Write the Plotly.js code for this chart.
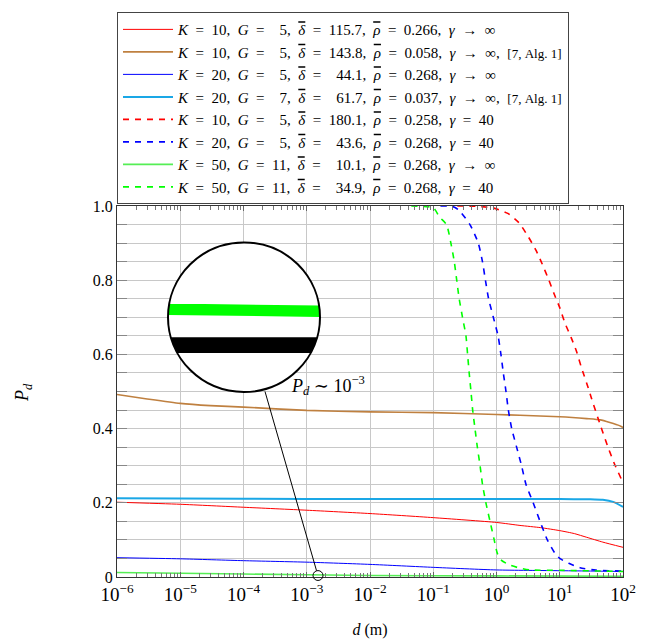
<!DOCTYPE html>
<html>
<head>
<meta charset="utf-8">
<script src="https://cdn.plot.ly/plotly-3.0.1.min.js"></script>
<style>html,body{margin:0;padding:0;background:#fff;}#plot{width:665px;height:642px;}</style>
</head>
<body>
<div id="plot"></div>
<script>
// ---- data ----
const brownX = [1e-6, 3e-6, 1e-5, 3e-5, 1e-4, 1e-3, 1e-2, 1e-1, 1, 2.35, 10, 26.7, 43.7, 62, 88, 100];
const brownY = [0.492, 0.480, 0.468, 0.462, 0.458, 0.449, 0.445, 0.443, 0.438, 0.436, 0.432, 0.427, 0.4236, 0.4165, 0.408, 0.403];

const cyanX = [1e-6, 1e-4, 1e-2, 1, 10, 30, 48, 70, 100];
const cyanY = [0.212, 0.211, 0.210, 0.210, 0.210, 0.2095, 0.208, 0.2025, 0.189];

const redX = [1e-6, 1e-5, 1e-4, 1e-3, 1e-2, 1e-1, 1, 2.35, 5, 10, 17, 26.7, 48, 100];
const redY = [0.2016, 0.196, 0.188, 0.180, 0.171, 0.160, 0.147, 0.139, 0.133, 0.125, 0.117, 0.107, 0.094, 0.080];

const blueX = [1e-6, 1e-5, 1e-4, 1e-3, 1e-2, 1e-1, 1, 10, 100];
const blueY = [0.052, 0.049, 0.044, 0.040, 0.034, 0.026, 0.019, 0.017, 0.015];

const greenX = [1e-6, 1e-4, 1e-2, 1, 100];
const greenY = [0.012, 0.008, 0.004, 0.003, 0.002];

const redDashX = [0.24, 0.5, 0.88, 1.51, 2.26, 3.21, 4.2, 5.3, 6.67, 8.1, 10, 12.1, 15.1, 18.5, 21.7, 28.3, 31, 43.3, 56.5, 72.8, 95.2, 100];
const redDashY = [1.0, 0.999, 0.995, 0.98, 0.955, 0.916, 0.881, 0.843, 0.802, 0.764, 0.726, 0.684, 0.646, 0.607, 0.568, 0.509, 0.487, 0.412, 0.355, 0.306, 0.262, 0.253];

const blueDashX = [0.13, 0.2, 0.25, 0.38, 0.515, 0.6, 0.668, 0.75, 0.891, 1.059, 1.175, 1.282, 1.413, 1.54, 1.74, 2.08, 2.49, 2.92, 3.8, 4.88, 6.36, 8.4, 10, 13.9, 20.9, 37, 100];
const blueDashY = [1.0, 0.999, 0.99, 0.95, 0.9, 0.85, 0.8, 0.75, 0.7, 0.65, 0.6, 0.55, 0.5, 0.45, 0.4, 0.35, 0.3, 0.25, 0.2, 0.15, 0.1, 0.064, 0.05, 0.037, 0.025, 0.0186, 0.016];

const greenDashX = [0.045, 0.1, 0.126, 0.162, 0.19, 0.215, 0.235, 0.257, 0.29, 0.329, 0.349, 0.37, 0.395, 0.42, 0.457, 0.498, 0.55, 0.6, 0.68, 0.79, 0.92, 1.03, 1.2, 1.63, 2.35, 3.4, 10, 100];
const greenDashY = [1.0, 0.995, 0.97, 0.95, 0.9, 0.85, 0.8, 0.75, 0.7, 0.65, 0.6, 0.55, 0.5, 0.45, 0.4, 0.35, 0.3, 0.25, 0.2, 0.15, 0.1, 0.064, 0.045, 0.032, 0.024, 0.019, 0.018, 0.015];

const S = '\u2002';
const ov = s => '<span style="text-decoration:overline">' + s + '</span>';
const eq = S + '=' + S, to = S + '→' + S, F = '\u2007', c = ',' + S;
const cite = '<span style="font-size:13px">[7, Alg. 1]</span>';
const labels = [
  '<i>K</i>'+eq+'10'+c+'<i>G</i>'+eq+F+'5'+c+'<i>'+ov('δ')+'</i>'+eq+'115.7'+c+'<i>'+ov('ρ')+'</i>'+eq+'0.266'+c+'<i>γ</i>'+to+'∞',
  '<i>K</i>'+eq+'10'+c+'<i>G</i>'+eq+F+'5'+c+'<i>'+ov('δ')+'</i>'+eq+'143.8'+c+'<i>'+ov('ρ')+'</i>'+eq+'0.058'+c+'<i>γ</i>'+to+'∞'+c+cite,
  '<i>K</i>'+eq+'20'+c+'<i>G</i>'+eq+F+'5'+c+'<i>'+ov('δ')+'</i>'+eq+F+'44.1'+c+'<i>'+ov('ρ')+'</i>'+eq+'0.268'+c+'<i>γ</i>'+to+'∞',
  '<i>K</i>'+eq+'20'+c+'<i>G</i>'+eq+F+'7'+c+'<i>'+ov('δ')+'</i>'+eq+F+'61.7'+c+'<i>'+ov('ρ')+'</i>'+eq+'0.037'+c+'<i>γ</i>'+to+'∞'+c+cite,
  '<i>K</i>'+eq+'10'+c+'<i>G</i>'+eq+F+'5'+c+'<i>'+ov('δ')+'</i>'+eq+'180.1'+c+'<i>'+ov('ρ')+'</i>'+eq+'0.258'+c+'<i>γ</i>'+eq+'40',
  '<i>K</i>'+eq+'20'+c+'<i>G</i>'+eq+F+'5'+c+'<i>'+ov('δ')+'</i>'+eq+F+'43.6'+c+'<i>'+ov('ρ')+'</i>'+eq+'0.268'+c+'<i>γ</i>'+eq+'40',
  '<i>K</i>'+eq+'50'+c+'<i>G</i>'+eq+'11'+c+'<i>'+ov('δ')+'</i>'+eq+F+'10.1'+c+'<i>'+ov('ρ')+'</i>'+eq+'0.268'+c+'<i>γ</i>'+to+'∞',
  '<i>K</i>'+eq+'50'+c+'<i>G</i>'+eq+'11'+c+'<i>'+ov('δ')+'</i>'+eq+F+'34.9'+c+'<i>'+ov('ρ')+'</i>'+eq+'0.268'+c+'<i>γ</i>'+eq+'40'
];

const xTickVals = [1e-6, 1e-5, 1e-4, 1e-3, 1e-2, 1e-1, 1, 10, 100];
const xTickText = ['10<sup>−6</sup>','10<sup>−5</sup>','10<sup>−4</sup>','10<sup>−3</sup>','10<sup>−2</sup>','10<sup>−1</sup>','10<sup>0</sup>','10<sup>1</sup>','10<sup>2</sup>'];
const yLabelMap = {0:'0', 20:'0.2', 40:'0.4', 60:'0.6', 80:'0.8', 100:'1.0'};

// ---- axis helpers ----
const minorX = [];
for (let e = -6; e < 2; e++) for (let m = 2; m <= 9; m++) minorX.push(m * Math.pow(10, e));
const yTickVals = [], yTickText = [];
for (let k = 0; k <= 100; k += 5) { yTickVals.push(k / 100); yTickText.push(yLabelMap[k] !== undefined ? yLabelMap[k] : ''); }

const series = [
  [redX, redY, '#ff0000', 1, 'solid'],
  [brownX, brownY, '#bf8040', 1.6, 'solid'],
  [blueX, blueY, '#0000ff', 1, 'solid'],
  [cyanX, cyanY, '#1aa7e6', 2, 'solid'],
  [redDashX, redDashY, '#ff0000', 1.6, '6px,6px'],
  [blueDashX, blueDashY, '#0000ff', 1.6, '6px,6px'],
  [greenX, greenY, '#55ee55', 1.6, 'solid'],
  [greenDashX, greenDashY, '#00ff00', 1.6, '6px,6px']
];
const traces = series.map((s, i) => ({
  x: s[0], y: s[1], type: 'scatter', mode: 'lines', name: labels[i],
  line: {color: s[2], width: s[3], dash: s[4], shape: 'spline', smoothing: 0.6}
}));

// ---- pixel -> paper for decorations ----
const L = 117, R = 623, T = 200, B = 577;
const px = p => (p - L) / (R - L);
const py = p => (B - p) / (B - T);
const cx = 244, cy = 313, cr = 76;
function bandPath(yt, yb, slope) {
  const pts = [];
  const n = 8;
  const hw = y => Math.sqrt(Math.max(0, cr*cr - (y-cy)*(y-cy)));
  pts.push([cx - hw(yt), yt - slope]); pts.push([cx + hw(yt + slope), yt + slope]);
  for (let i = 1; i <= n; i++) { const y = yt + slope + (yb - yt) * i / n; pts.push([cx + hw(y), y]); }
  for (let i = n; i >= 0; i--) { const y = yt - slope + (yb - yt) * i / n; pts.push([cx - hw(y), y]); }
  return 'M' + pts.map(p => px(p[0]).toFixed(5) + ',' + py(p[1]).toFixed(5)).join(' L') + ' Z';
}

const shapes = [
  {type:'circle', xref:'paper', yref:'paper', x0:px(cx-cr), x1:px(cx+cr), y0:py(cy+cr), y1:py(cy-cr), fillcolor:'#ffffff', line:{width:0}},
  {type:'path', xref:'paper', yref:'paper', path: bandPath(300.2, 311.7, 1), fillcolor:'#00ff00', line:{width:0}},
  {type:'path', xref:'paper', yref:'paper', path: bandPath(333.3, 349.3, 0), fillcolor:'#000000', line:{width:0}},
  {type:'circle', xref:'paper', yref:'paper', x0:px(cx-cr), x1:px(cx+cr), y0:py(cy+cr), y1:py(cy-cr), line:{color:'#000', width:2}},
  {type:'line', xref:'paper', yref:'paper', x0:px(265), y0:py(388.5), x1:px(316.5), y1:py(570.5), line:{color:'#000', width:1}},
  {type:'circle', xref:'paper', yref:'paper', x0:px(313), x1:px(323), y0:py(580.5), y1:py(570.5), line:{color:'#000', width:1}}
];

const serif = '"Liberation Serif", "DejaVu Serif", serif';
const layout = {
  width: 665, height: 642,
  margin: {l: L, r: 665 - R, t: T, b: 642 - B, pad: 0},
  paper_bgcolor: '#fff', plot_bgcolor: '#fff',
  font: {family: serif, color: '#000', size: 15},
  showlegend: true,
  legend: {x: 0, xanchor: 'left', y: py(3), yanchor: 'top', bgcolor: '#fff', bordercolor: '#444', borderwidth: 1,
           font: {family: serif, size: 15, color: '#000'}, tracegroupgap: 0, itemwidth: 50},
  xaxis: {type: 'log', range: [-6, 2], tickmode: 'array', tickvals: xTickVals, ticktext: xTickText,
          showgrid: true, gridcolor: '#c8c8c8', gridwidth: 1, zeroline: false,
          showline: true, linecolor: '#333', linewidth: 1, mirror: 'allticks',
          ticks: 'inside', ticklen: 5, tickcolor: '#666', tickfont: {family: serif, size: 19},
          minor: {tickmode: 'array', tickvals: minorX, ticks: 'inside', ticklen: 4, tickcolor: '#777', showgrid: false},
          title: {text: '<i>d</i> (m)', font: {family: serif, size: 16}, standoff: 20}},
  yaxis: {range: [0, 1], tickmode: 'array', tickvals: yTickVals, ticktext: yTickText,
          showgrid: true, gridcolor: '#c8c8c8', gridwidth: 1, zeroline: false,
          showline: true, linecolor: '#333', linewidth: 1, mirror: 'allticks',
          ticks: 'inside', ticklen: 10, tickcolor: '#888', tickfont: {family: serif, size: 16}},
  shapes: shapes,
  annotations: [
    {xref:'paper', yref:'paper', x: px(289), y: py(382), xanchor:'left', yanchor:'middle', showarrow:false,
     text:'<i>P</i><sub><i>d</i></sub> ∼ 10<sup>−3</sup>', font:{family: serif, size: 18}},
    {xref:'paper', yref:'paper', x: px(24), y: py(390), xanchor:'center', yanchor:'middle', showarrow:false, textangle:-90,
     text:'<i>P</i><sub><i>d</i></sub>', font:{family: serif, size: 18}}
  ]
};

Plotly.newPlot('plot', traces, layout, {displayModeBar: false, staticPlot: true});
</script>
</body>
</html>
